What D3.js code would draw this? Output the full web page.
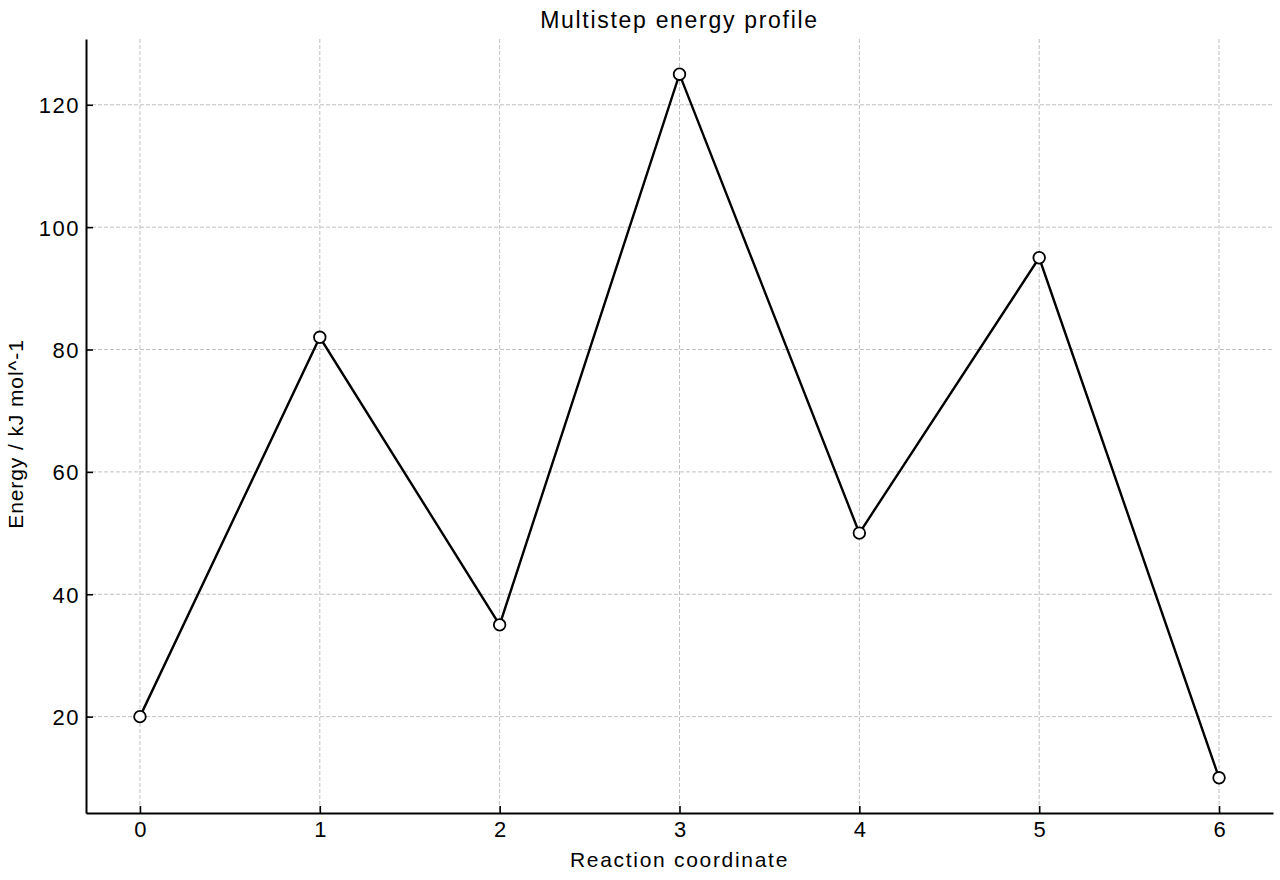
<!DOCTYPE html>
<html>

<head>
  <title>Multistep energy profile</title>
  <meta charset="UTF-8">
  <script src="https://d3js.org/d3.v7.min.js"></script>
  <style type="text/css">
    body {
      margin: 0;
      background: #fff;
      font-family: "Liberation Sans", Arial, sans-serif;
    }
  </style>
</head>

<body>
  <script type="text/javascript">
    // chart data
    var steps = [0, 1, 2, 3, 4, 5, 6];
    var energies = [20, 82, 35, 125, 50, 95, 10];
    var xTicks = [0, 1, 2, 3, 4, 5, 6];
    var yTicks = [20, 40, 60, 80, 100, 120];

    var margin = { top: 39, right: 7, bottom: 67, left: 86 },
      width = 1280 - margin.left - margin.right,
      height = 880 - margin.top - margin.bottom;

    var x = d3.scaleLinear().domain([-0.3, 6.3]).range([0, width]);
    var y = d3.scaleLinear().domain([4.25, 130.75]).range([height, 0]);

    var svg = d3.select('body').append('svg')
      .attr('width', 1280)
      .attr('height', 880);

    var g = svg.append('g')
      .attr('transform', 'translate(' + margin.left + ',' + margin.top + ')');

    // grid lines
    g.selectAll('.vgrid').data(xTicks).enter().append('line')
      .attr('x1', function (d) { return x(d); })
      .attr('x2', function (d) { return x(d); })
      .attr('y1', 0).attr('y2', height)
      .style('stroke', '#b0b0b0').style('stroke-width', 0.8)
      .style('stroke-dasharray', '4,2');

    g.selectAll('.hgrid').data(yTicks).enter().append('line')
      .attr('x1', 0).attr('x2', width)
      .attr('y1', function (d) { return y(d); })
      .attr('y2', function (d) { return y(d); })
      .style('stroke', '#b0b0b0').style('stroke-width', 0.8)
      .style('stroke-dasharray', '4,2');

    // axes with inward ticks
    var xAxis = g.append('g')
      .attr('transform', 'translate(0,' + height + ')')
      .call(d3.axisBottom(x).tickValues(xTicks).tickFormat(d3.format('d'))
        .tickSize(-7).tickPadding(8).tickSizeOuter(0));
    var yAxis = g.append('g')
      .call(d3.axisLeft(y).tickValues(yTicks).tickFormat(d3.format('d'))
        .tickSize(-7).tickPadding(6).tickSizeOuter(0));

    [xAxis, yAxis].forEach(function (a) {
      a.select('.domain').style('stroke', '#000').style('stroke-width', 2);
      a.selectAll('.tick line').style('stroke', '#000').style('stroke-width', 1.6);
      a.selectAll('.tick text')
        .style('font-family', '"Liberation Sans", Arial, sans-serif')
        .style('font-size', '22px')
        .style('letter-spacing', '1.5px')
        .style('fill', '#000');
    });
    yAxis.selectAll('.tick text').attr('dy', '0.36em');
    xAxis.selectAll('.tick text').attr('dx', '0.75px');

    // energy line
    var line = d3.line()
      .x(function (d, i) { return x(steps[i]); })
      .y(function (d) { return y(d); });

    g.append('path')
      .datum(energies)
      .attr('d', line)
      .style('fill', 'none')
      .style('stroke', '#000')
      .style('stroke-width', 2.4);

    g.selectAll('.pt').data(energies).enter().append('circle')
      .attr('cx', function (d, i) { return x(steps[i]); })
      .attr('cy', function (d) { return y(d); })
      .attr('r', 5.8)
      .style('fill', '#fff')
      .style('stroke', '#000')
      .style('stroke-width', 1.8);

    // title and labels
    svg.append('text')
      .attr('x', margin.left + width / 2).attr('y', 28)
      .style('text-anchor', 'middle')
      .style('font-size', '23px')
      .style('letter-spacing', '1.7px')
      .text('Multistep energy profile');

    svg.append('text')
      .attr('x', margin.left + width / 2).attr('y', 867)
      .style('text-anchor', 'middle')
      .style('font-size', '21px')
      .style('letter-spacing', '1.7px')
      .text('Reaction coordinate');

    svg.append('text')
      .attr('transform', 'translate(23,' + (margin.top + height / 2 + 8) + ') rotate(-90)')
      .style('text-anchor', 'middle')
      .style('font-size', '21px')
      .style('letter-spacing', '0.9px')
      .text('Energy / kJ mol^-1');
  </script>
</body>

</html>
